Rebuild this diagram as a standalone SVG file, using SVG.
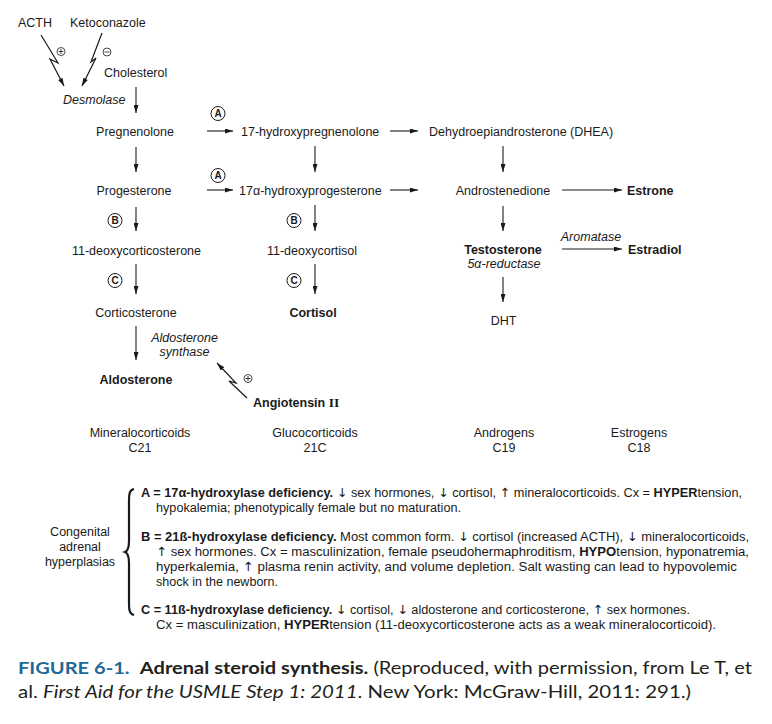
<svg xmlns="http://www.w3.org/2000/svg" width="772" height="724" viewBox="0 0 772 724">
<style>
text{font-family:"Liberation Sans",Arial,sans-serif;font-size:12.5px;fill:#1a1a1a}
.c{text-anchor:middle}
.b{font-weight:bold}
.i{font-style:italic}
.ln{stroke:#1a1a1a;stroke-width:1.1;fill:none}
.bolt{stroke:#1a1a1a;stroke-width:1.2;fill:none}
.circ{fill:#fff;stroke:#1a1a1a;stroke-width:1}
.lt{font-size:10px;font-weight:bold;text-anchor:middle}
.sym{fill:none;stroke:#1a1a1a;stroke-width:0.8}
.body{font-size:12.5px}
.ar{font-family:"DejaVu Sans",sans-serif;font-weight:normal}
.cap{font-family:Lato,"Liberation Sans",sans-serif;font-size:17px;fill:#231f20}
.blue{fill:#1d6a99;font-weight:bold}
</style>
<defs>
<marker id="ah" viewBox="0 0 8 5" refX="8" refY="2.5" markerWidth="8" markerHeight="5" markerUnits="userSpaceOnUse" orient="auto"><path d="M0,0 L8,2.5 L0,5 z" fill="#1a1a1a"/></marker>
</defs>
<rect width="772" height="724" fill="#fff"/>

<g id="connectors">
<line class="ln" x1="136" y1="87" x2="136" y2="113" marker-end="url(#ah)"/>
<line class="ln" x1="136" y1="147" x2="136" y2="172" marker-end="url(#ah)"/>
<line class="ln" x1="136" y1="207" x2="136" y2="231" marker-end="url(#ah)"/>
<line class="ln" x1="136" y1="264" x2="136" y2="294" marker-end="url(#ah)"/>
<line class="ln" x1="136" y1="326" x2="136" y2="360" marker-end="url(#ah)"/>
<line class="ln" x1="207" y1="131" x2="233" y2="131" marker-end="url(#ah)"/>
<line class="ln" x1="207" y1="190" x2="233" y2="190" marker-end="url(#ah)"/>
<line class="ln" x1="390" y1="131" x2="418" y2="131" marker-end="url(#ah)"/>
<line class="ln" x1="390" y1="190" x2="418" y2="190" marker-end="url(#ah)"/>
<line class="ln" x1="315" y1="146" x2="315" y2="172" marker-end="url(#ah)"/>
<line class="ln" x1="315" y1="205" x2="315" y2="231" marker-end="url(#ah)"/>
<line class="ln" x1="315" y1="264" x2="315" y2="294" marker-end="url(#ah)"/>
<line class="ln" x1="503" y1="146" x2="503" y2="172" marker-end="url(#ah)"/>
<line class="ln" x1="503" y1="206" x2="503" y2="231" marker-end="url(#ah)"/>
<line class="ln" x1="503" y1="277" x2="503" y2="302" marker-end="url(#ah)"/>
<line class="ln" x1="562" y1="190" x2="622" y2="190" marker-end="url(#ah)"/>
<line class="ln" x1="562" y1="249" x2="622" y2="249" marker-end="url(#ah)"/>
<path class="bolt" d="M41,35 L58,63 L50,59 L64,86" marker-end="url(#ah)"/>
<path class="bolt" d="M102,33 L91,62 L96,58 L82,86" marker-end="url(#ah)"/>
<path class="bolt" d="M247,398 L229,381 L236,383 L217,363" marker-end="url(#ah)"/>
<g id="sym-acth"><circle class="sym" cx="61" cy="51.5" r="4"/><path class="sym" d="M58.5,51.5 H63.5 M61,49 V54"/></g>
<g id="sym-keto"><circle class="sym" cx="107" cy="52" r="4"/><path class="sym" d="M104.5,52 H109.5"/></g>
<g id="sym-ang"><circle class="sym" cx="248" cy="378.5" r="4"/><path class="sym" d="M245.5,378.5 H250.5 M248,376 V381"/></g>
<g id="enz-A1"><circle class="circ" cx="218" cy="113.5" r="7"/><text class="lt" x="218" y="117.2">A</text></g>
<g id="enz-A2"><circle class="circ" cx="218" cy="175.5" r="7"/><text class="lt" x="218" y="179.2">A</text></g>
<g id="enz-B1"><circle class="circ" cx="115" cy="220.5" r="7"/><text class="lt" x="115" y="224.2">B</text></g>
<g id="enz-B2"><circle class="circ" cx="294" cy="220.5" r="7"/><text class="lt" x="294" y="224.2">B</text></g>
<g id="enz-C1"><circle class="circ" cx="115" cy="280.5" r="7"/><text class="lt" x="115" y="284.2">C</text></g>
<g id="enz-C2"><circle class="circ" cx="294" cy="280.5" r="7"/><text class="lt" x="294" y="284.2">C</text></g>
<text class="i c" x="591" y="241">Aromatase</text>
</g>

<g id="acth"><text x="18" y="27">ACTH</text></g>
<g id="ketoconazole"><text x="70" y="27">Ketoconazole</text></g>
<g id="cholesterol"><text x="104" y="77">Cholesterol</text></g>
<g id="desmolase"><text class="i" x="63" y="104">Desmolase</text></g>
<g id="pregnenolone"><text class="c" x="135" y="136">Pregnenolone</text></g>
<g id="progesterone"><text class="c" x="134" y="194.5">Progesterone</text></g>
<g id="ohpreg"><text x="241" y="136">17-hydroxypregnenolone</text></g>
<g id="ohprog"><text x="239" y="194.5">17α-hydroxyprogesterone</text></g>
<g id="dhea"><text x="429" y="136">Dehydroepiandrosterone (DHEA)</text></g>
<g id="androstenedione"><text class="c" x="503" y="195">Androstenedione</text></g>
<g id="estrone"><text class="b" x="627" y="195">Estrone</text></g>
<g id="deoxycorticosterone"><text class="c" x="136.5" y="254.5">11-deoxycorticosterone</text></g>
<g id="deoxycortisol"><text class="c" x="312" y="254.5">11-deoxycortisol</text></g>
<g id="testosterone"><text class="b c" x="503" y="253.5">Testosterone</text><text class="i c" x="504" y="268">5α-reductase</text></g>
<g id="estradiol"><text class="b" x="628" y="253.5">Estradiol</text></g>
<g id="corticosterone"><text class="c" x="136" y="316.5">Corticosterone</text></g>
<g id="cortisol"><text class="b c" x="313" y="316.5">Cortisol</text></g>
<g id="dht"><text class="c" x="503.5" y="324.5">DHT</text></g>
<g id="aldo-synthase"><text class="i c" x="184.5" y="341.5">Aldosterone</text><text class="i c" x="184.5" y="355.5">synthase</text></g>
<g id="aldosterone"><text class="b c" x="136" y="383.5">Aldosterone</text></g>
<g id="angiotensin"><text class="b" x="253" y="406.5">Angiotensin <tspan style="font-family:'Liberation Serif',serif;font-size:13.5px">II</tspan></text></g>

<g id="classes">
<text class="c" x="140" y="437">Mineralocorticoids</text><text class="c" x="140" y="452">C21</text>
<text class="c" x="315" y="437">Glucocorticoids</text><text class="c" x="315" y="452">21C</text>
<text class="c" x="504" y="437">Androgens</text><text class="c" x="504" y="452">C19</text>
<text class="c" x="639" y="437">Estrogens</text><text class="c" x="639" y="452">C18</text>
</g>

<g id="cah">
<text class="c" x="80" y="536">Congenital</text>
<text class="c" x="80" y="550.5">adrenal</text>
<text class="c" x="80" y="565.5">hyperplasias</text>
<path d="M134,489 C129.5,490 129,494 129,500 L129,541 C129,548 127.5,551 125,552 C127.5,553 129,556 129,563 L129,604 C129,610 129.5,614 134,615" fill="none" stroke="#1a1a1a" stroke-width="2.2"/>
<text class="body" x="141" y="497" textLength="601" lengthAdjust="spacingAndGlyphs"><tspan class="b">A = 17α-hydroxylase deficiency.</tspan> <tspan class="ar">↓</tspan> sex hormones, <tspan class="ar">↓</tspan> cortisol, <tspan class="ar">↑</tspan> mineralocorticoids. Cx = <tspan class="b">HYPER</tspan>tension,</text>
<text class="body" x="156" y="512" textLength="305" lengthAdjust="spacingAndGlyphs">hypokalemia; phenotypically female but no maturation.</text>
<text class="body" x="141" y="541" textLength="608" lengthAdjust="spacingAndGlyphs"><tspan class="b">B = 21ß-hydroxylase deficiency.</tspan> Most common form. <tspan class="ar">↓</tspan> cortisol (increased ACTH), <tspan class="ar">↓</tspan> mineralocorticoids,</text>
<text class="body" x="156" y="556" textLength="593" lengthAdjust="spacingAndGlyphs"><tspan class="ar">↑</tspan> sex hormones. Cx = masculinization, female pseudohermaphroditism, <tspan class="b">HYPO</tspan>tension, hyponatremia,</text>
<text class="body" x="156" y="571" textLength="581" lengthAdjust="spacingAndGlyphs">hyperkalemia, <tspan class="ar">↑</tspan> plasma renin activity, and volume depletion. Salt wasting can lead to hypovolemic</text>
<text class="body" x="156" y="586" textLength="122" lengthAdjust="spacingAndGlyphs">shock in the newborn.</text>
<text class="body" x="141" y="614" textLength="549" lengthAdjust="spacingAndGlyphs"><tspan class="b">C = 11ß-hydroxylase deficiency.</tspan> <tspan class="ar">↓</tspan> cortisol, <tspan class="ar">↓</tspan> aldosterone and corticosterone, <tspan class="ar">↑</tspan> sex hormones.</text>
<text class="body" x="156" y="629" textLength="560" lengthAdjust="spacingAndGlyphs">Cx = masculinization, <tspan class="b">HYPER</tspan>tension (11-deoxycorticosterone acts as a weak mineralocorticoid).</text>
</g>

<g id="caption">
<text class="cap" x="18" y="674" textLength="734" lengthAdjust="spacingAndGlyphs" xml:space="preserve"><tspan class="blue">FIGURE 6-1.</tspan>  <tspan font-weight="bold">Adrenal steroid synthesis.</tspan> (Reproduced, with permission, from Le T, et</text>
<text class="cap" x="18" y="698" textLength="673" lengthAdjust="spacingAndGlyphs">al. <tspan font-style="italic">First Aid for the USMLE Step 1: 2011</tspan>. New York: McGraw-Hill, 2011: 291.)</text>
</g>
</svg>
